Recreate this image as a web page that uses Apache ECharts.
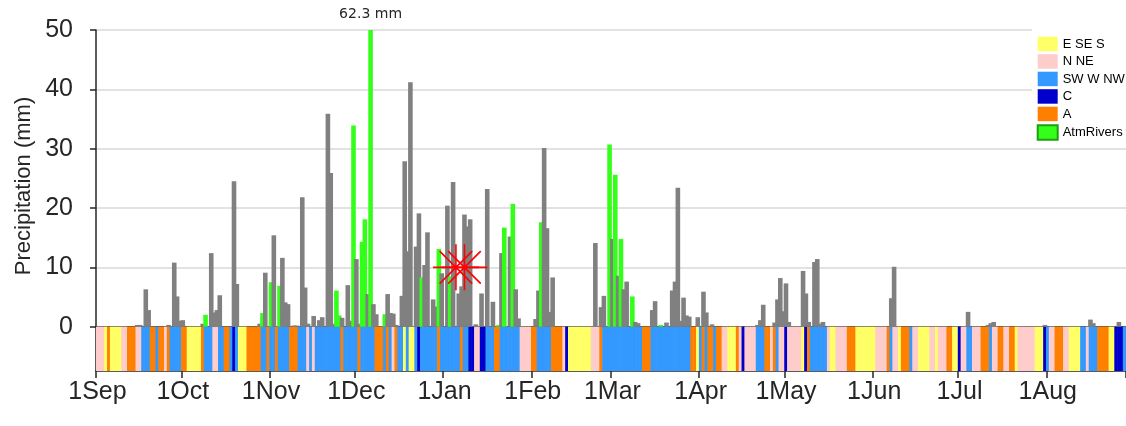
<!DOCTYPE html>
<html><head><meta charset="utf-8">
<script src="https://cdn.jsdelivr.net/npm/echarts@6/dist/echarts.min.js"></script>
<style>html,body{margin:0;padding:0;background:#fff}#c{width:1126px;height:426px}</style>
</head><body><div id="c"></div>
<script>
// ---- data ----
const monthNames   = ['Sep','Oct','Nov','Dec','Jan','Feb','Mar','Apr','May','Jun','Jul','Aug'];
const monthLengths = [30,31,30,31,31,28,31,30,31,30,31,28];   // Aug shown up to the 28th
const monthTickLabels = ['1Sep','1Oct','1Nov','1Dec','1Jan','1Feb','1Mar','1Apr','1May','1Jun','1Jul','1Aug'];

const precipSep = [0,0,0,0,0,0,0,0,0,0, 0,0,0,0,0.3,0.3,0,6.3,2.8,0, 0,0,0,0,0,0.3,0,10.8,5.1,1.0];
const precipOct = [1.1,0,0,0,0,0,0,0.5,2.0,0, 12.4,2.4,2.8,5.3,0,0,0,0,24.5,7.2, 0,0,0,0,0,0,0,0.5,2.3,9.1, 0];
const precipNov = [7.5,15.4,0,6.9,11.6,4.1,3.8,0,0.2,0.2, 0,21.8,6.6,0.5,0,1.8,0,1.1,1.6,0, 35.9,25.9,0.5,6.1,1.9,1.5,0,7.0,1.0,33.9];
const precipDec = [11.4,0.5,14.3,18.1,5.5,62.3,3.8,2.1,0,0, 2.1,5.5,2.3,2.2,0.3,0,5.2,27.9,12.7,41.2, 0,13.5,19.1,8.3,10.4,15.9,0,4.6,3.4,13.1, 9.0];
const precipJan = [0,20.4,8.4,24.4,0,5.6,6.8,18.9,16.9,18.1, 0,0.4,0,5.6,0,23.2,0,4.2,0,0.3, 12.4,16.7,0,15.2,20.7,6.3,1.4,0,0,0, 0];
const precipFeb = [0,1.3,6.1,17.6,30.1,16.6,2.5,8.3,0,0, 0,0,0,0,0,0,0,0,0,0, 0,0,14.1,0,3.3,5.2,0,30.7];
const precipMar = [14.8,25.6,8.6,14.8,6.3,7.6,0,5.1,0.8,0.6, 0,0,0,0,2.8,4.3,0,0.3,0,0.7, 0,6.1,7.6,23.4,1.0,4.9,1.9,1.7,0,0, 1.6];
const precipApr = [0,5.9,2.4,0,0.4,0,0,0,0,0, 0,0,0,0,0,0,0,0,0,0, 0.3,1.1,3.7,0,0,0,0.7,4.6,8.2,2.6];
const precipMay = [7.3,0.8,0,0,0,0,9.4,5.6,0.8,0, 10.9,11.4,0.5,0.8,0,0,0,0,0,0, 0,0,0,0,0,0,0,0,0,0, 0];
const precipJun = [0,0,0,0,0,0,4.8,10.1,0,0, 0,0,0,0,0,0,0,0,0,0, 0,0,0,0,0,0,0,0,0,0];
const precipJul = [0,0,0,2.5,0,0,0,0,0,0, 0.3,0.6,0.8,0,0,0,0,0,0,0, 0,0,0,0,0,0,0,0,0,0, 0.3];
const precipAug = [0,0,0,0,0,0,0,0,0,0, 0,0,0,0,0,1.2,0.6,0,0,0, 0,0,0,0,0,0.8,0,0];

// day indices (from 1 Sep) that are atmospheric-river days
const atmRiverDays = [38,58,61,64,84,85,90,93,94,96,101,114,120,124,141,143,146,156,180,182,184,188,198];

// daily weather type: Y = E SE S, P = N NE, B = SW W NW, C = C, A = A
const weatherTypesByMonth = [
  'PPPYAYYYYPPAAAPPBBBAABAAPABBBB',
  'AAYYYYYABBBPPBBAABCBYYYAAAAABBA',
  'BBABBBBAAABBBPBPBBBBBBBBBABBBB',
  'BABBBBBAAABABPABBYBYYBCBBBBBBAB',
  'BBBBBBABBCCPPCCBBBAABBBBBBBPPPP',
  'AABBBBBAAAAPCYYYYYYYYPPPABBB',
  'BBBBBBBBBBBAAABBBBBBBBBBBBBBAAY',
  'BABAABAAPPYYYAPCPPPPBBBAAPABPP',
  'CPPPPPYCABBBBBBPYYPPPPAAAYYYYYY',
  'YPPPPABPPYAAABPPYYYYPPYPPPAAYY',
  'CPPBBPPPAAABPPAAPPAAYPPPPPPYYYC',
  'BPPAAAPPYYYYBBPBBBAAAAYYCCCB'
];
const typeOrder  = ['Y','P','B','C','A'];
const typeNames  = {Y:'E SE S', P:'N NE', B:'SW W NW', C:'C', A:'A'};
const typeColors = {Y:'#ffff66', P:'#ffcccc', B:'#3399ff', C:'#0000cc', A:'#ff8000'};

const markerDays   = [126, 129];
const markerValues = [10, 10];
const maxDay = 96;           // day of the clipped 62.3 mm bar
const yMax = 50;

// ---- build ----
const categories = [];
monthNames.forEach((m, i) => { for (let d = 1; d <= monthLengths[i]; d++) categories.push(d + m); });
const precip = [].concat(precipSep, precipOct, precipNov, precipDec, precipJan, precipFeb,
                         precipMar, precipApr, precipMay, precipJun, precipJul, precipAug);
const weatherTypes = weatherTypesByMonth.join('').split('');
const arSet = new Set(atmRiverDays);
const GRAY = '#808080', GREEN = '#33ff1a';
const isMonthStart = (idx) => monthTickLabels.indexOf(categories[idx]) >= 0;

const FONT = 'Liberation Sans';
const AX = '#262626';

const legendSeries = typeOrder.map(t => ({
  name: typeNames[t], type: 'line', data: [], xAxisIndex: 0, yAxisIndex: 0,
  itemStyle: {color: typeColors[t]}, lineStyle: {color: typeColors[t]}
})).concat([{name: 'AtmRivers', type: 'line', data: [], xAxisIndex: 0, yAxisIndex: 0,
  itemStyle: {color: GREEN, borderColor: '#1f9e10', borderWidth: 1}, lineStyle: {color: GREEN}}]);

const option = {
  animation: false,
  backgroundColor: '#fff',
  grid: [
    {left: 96, right: 0, top: 30, height: 296.7},
    {left: 96, right: 0, top: 326.7, height: 44.3}
  ],
  xAxis: [
    {type: 'category', gridIndex: 0, data: categories, boundaryGap: true,
     axisLine: {show: true, lineStyle: {color: AX, width: 1.5}},
     axisTick: {show: false}, axisLabel: {show: false}, splitLine: {show: false}},
    {type: 'category', gridIndex: 1, data: categories, boundaryGap: true,
     axisLine: {show: true, lineStyle: {color: AX, width: 1.5}},
     axisTick: {show: true, length: 7, interval: (i) => isMonthStart(i), lineStyle: {color: AX, width: 1.5}},
     axisLabel: {show: true, interval: (i) => isMonthStart(i), fontSize: 25, color: AX, fontFamily: FONT, margin: 9},
     splitLine: {show: false}}
  ],
  yAxis: [
    {type: 'value', gridIndex: 0, min: 0, max: yMax, interval: 10,
     axisLine: {show: true, lineStyle: {color: AX, width: 1.5}},
     axisTick: {show: true, length: 6, lineStyle: {color: AX, width: 1.5}},
     axisLabel: {fontSize: 25, color: AX, fontFamily: FONT, margin: 23},
     splitLine: {show: true, lineStyle: {color: '#e2e2e2', width: 2}}},
    {type: 'value', gridIndex: 1, min: 0, max: 1,
     axisLine: {show: true, lineStyle: {color: AX, width: 1.5}},
     axisTick: {show: false}, axisLabel: {show: false}, splitLine: {show: false}}
  ],
  legend: {
    orient: 'vertical', left: 1032, top: 28, icon: 'rect',
    itemWidth: 20, itemHeight: 14.5, itemGap: 3,
    backgroundColor: '#fff', padding: [8.7, 10, 4, 4.7],
    textStyle: {fontSize: 13, color: '#000', fontFamily: FONT},
    selectedMode: false,
    data: typeOrder.map(t => typeNames[t]).concat(['AtmRivers'])
  },
  graphic: [{
    type: 'text', x: 24, y: 186, rotation: Math.PI / 2,
    style: {text: 'Precipitation (mm)', font: '22px "Liberation Sans"', fill: AX, align: 'center', verticalAlign: 'middle'}
  }],
  series: [
    {name: 'types', type: 'bar', xAxisIndex: 1, yAxisIndex: 1, barWidth: 3.5, silent: true,
     data: weatherTypes.map(t => ({value: 1, itemStyle: {color: typeColors[t]}}))},
    {name: 'precip', type: 'bar', xAxisIndex: 0, yAxisIndex: 0, barWidth: 4.6, clip: true, silent: true,
     data: precip.map((v, i) => ({value: v, itemStyle: {color: arSet.has(i) ? GREEN : GRAY}})),
     markPoint: {
       symbol: 'rect', symbolSize: [1, 1], itemStyle: {color: 'rgba(0,0,0,0)'},
       label: {show: true, position: 'top', distance: 8, fontSize: 14, color: AX, fontFamily: 'DejaVu Sans',
               formatter: (p) => p.value + ' mm'},
       data: [{coord: [categories[maxDay], yMax], value: precip[maxDay]}]
     }},
    {name: 'marker', type: 'scatter', xAxisIndex: 0, yAxisIndex: 0, silent: true,
     symbol: 'path://M23,0 L23,46 M0,23 L46,23 M6.7,6.7 L39.3,39.3 M6.7,39.3 L39.3,6.7',
     symbolSize: 46,
     itemStyle: {color: 'rgba(0,0,0,0)', borderColor: '#ff0000', borderWidth: 1.6, opacity: 1},
     data: markerDays.map((d, i) => [categories[d], markerValues[i]]), z: 5}
  ].concat(legendSeries)
};
echarts.init(document.getElementById('c'), null, {renderer: 'canvas'}).setOption(option);
</script></body></html>
